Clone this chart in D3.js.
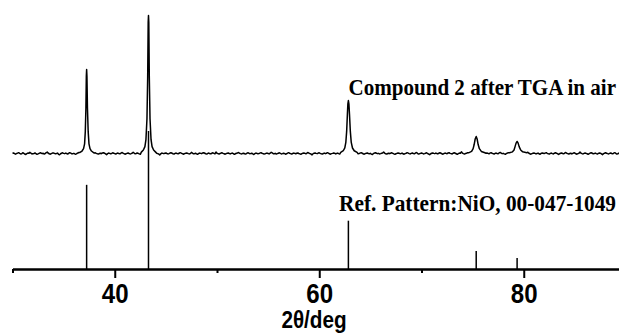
<!DOCTYPE html>
<html>
<head>
<meta charset="utf-8">
<script src="https://cdn.jsdelivr.net/npm/d3@7"></script>
<style>
    body { margin: 0; background: #fff; }
    svg { display: block; }
</style>
</head>
<body>
<script>
// tick values
const majorTicks = [40, 60, 80];
const minorTicks = [30, 50, 70, 90];

// reference pattern NiO, 00-047-1049 (2theta, relative intensity %)
const refAngles = [37.25, 43.3, 62.85, 75.35, 79.35];
const refIntensity = [61, 100, 35, 13, 8];

// measured pattern: baseline noise, one value every 0.1 deg from 30.0 (counts)
const baseStart = 30.0;
const baseStep = 0.1;
const baseNoise = [
    2, 4, -1, -5, 0, 3, 6, 1, -3, -2, 5, 2, -4, -7, -1, 3, 1, 8, 2, -3,
    -1, 0, 4, -2, -6, -3, 1, 5, 3, -1, 2, -4, 0, 6, 10, 2, -2, -5, -1, 3,
    4, 1, -2, 0, 3, -6, -9, -2, 2, 5, 1, -1, 3, 0, -4, 2, 6, 3, -2, -1,
    1, -3, -5, 0, 4, 7, 2, -1, -3, 1, 3, -2, -6, 12, 3, -1, 0, 2, -4, -2,
    3, 5, 1, -2, -4, 0, 2, -1, 4, 6, 2, -3, -8, -1, 3, 1, -2, 0, 5, 2,
    -1, -4, 1, 3, 0, -2, 2, 7, 3, -1, -5, -2, 1, 4, 0, -3, -1, 2, 9, 3,
    -2, 0, 4, 1, -3, -6, -1, 2, 5, 3, -1, 1, -2, -4, 2, 6, 1, -3, 0, 3,
    5, 2, -1, -4, -11, -2, 3, 1, -1, 2, 4, 0, -3, -1, 3, 5, 2, -2, -4, 1,
    3, 0, -2, 2, 6, 3, -1, -5, -2, 1, 4, 2, -1, -3, 0, 8, 3, -2, -1, 2,
    -3, -6, 0, 3, 1, -1, 4, 6, 2, -2, -4, 1, 3, -1, -2, 2, 5, 1, -3, 11,
    2, -1, -4, 0, 3, 5, 1, -2, -5, -1, 2, 4, 0, -3, 1, 3, -1, -6, -2, 2,
    4, 7, 2, -1, -3, 0, 2, -2, -4, 1, 5, 3, -1, 0, 2, -3, -7, -1, 3, 1,
    -2, 0, 3, 6, 2, -1, -4, -2, 1, 3, 0, -3, 2, 9, 4, -1, -2, 1, -4, -1,
    2, 5, 1, -3, -1, 2, 0, -5, -2, 3, 6, 2, -1, -4, 0, 3, 1, -2, 2, 4,
    0, -3, -6, -1, 2, 4, 1, -2, 3, 7, 2, -1, -4, -10, -1, 2, 4, 1, -1, 3,
    5, 1, -2, -4, 0, 3, -1, 2, 6, 3, -2, -5, -1, 1, 4, 2, -3, 0, 3, -1,
    -4, -2, 2, 5, 1, -1, 3, 0, -3, -6, 0, 4, 8, 2, -1, -3, 1, 3, -2, 0,
    3, 6, 2, -2, -5, -1, 2, 4, 0, -2, 1, -4, -8, 0, 3, 5, 2, -1, 1, -3,
    -1, 2, 4, 10, 3, -2, -4, 0, 2, -1, 3, 5, 1, -3, -6, -2, 1, 4, 2, -1,
    0, 3, -2, -5, -1, 2, 6, 3, -1, -3, 1, 4, 0, -2, 3, 7, 2, -4, -2, 1,
    4, 1, -3, -1, 2, 5, 0, -4, -9, -2, 2, 4, 1, -1, 3, 0, -3, 2, 6, 2,
    -2, -5, 0, 3, 1, -2, 4, 6, 1, -1, -3, 2, 5, 2, -2, -6, -1, 3, 1, 12,
    3, -1, -4, 0, 2, 5, 1, -3, -1, 3, 7, 2, -2, -5, 0, 4, 1, -2, 3, 0,
    -3, -7, -1, 2, 4, 1, -2, 3, 6, 2, -1, -4, 1, 3, 0, -2, 4, 8, 2, -1,
    1, -3, -6, 0, 3, 5, 2, -1, -3, 2, 4, 0, -5, -2, 1, 3, -1, 2, 6, 3,
    -1, -4, 0, 3, 9, 2, -2, -5, -1, 2, 4, 1, -3, 0, 3, -2, -6, 1, 4, 2,
    0, 3, 6, 1, -2, -4, 1, 3, -1, -3, 2, 5, 2, -1, -7, -2, 2, 4, 0, -2,
    3, 7, 2, -1, -4, 0, 2, -3, 1, 5, 3, -2, -5, -1, 2, 10, 3, -1, -3, 1,
    4, 1, -2, -6, -1, 3, 5, 2, -2, 0, 3, -1, -4, 1, 4, 2, -3, -8, -1, 2,
    5, 2, -1, -3, 1, 4, 0, -2, 3, 6, 1, -4, -2, 2, 5, 1, -1, -5, 0, 3
];

const peak37 = [[36.6, 8], [36.8, 18], [36.95, 35], [37.05, 70], [37.12, 160], [37.18, 330],
    [37.22, 560], [37.25, 609], [37.28, 560], [37.33, 330], [37.4, 160], [37.48, 70],
    [37.58, 35], [37.72, 18], [37.9, 8]];
const peak43 = [[42.6, 10], [42.8, 25], [42.95, 50], [43.05, 100], [43.15, 250], [43.22, 550],
    [43.27, 950], [43.3, 1000], [43.33, 950], [43.38, 550], [43.45, 250], [43.55, 100],
    [43.65, 50], [43.8, 25], [44.0, 10]];
const peak63 = [[62.1, 8], [62.35, 20], [62.5, 40], [62.6, 80], [62.68, 160], [62.75, 280],
    [62.8, 360], [62.85, 384], [62.9, 360], [62.96, 280], [63.04, 160], [63.13, 80],
    [63.25, 40], [63.42, 20], [63.7, 8]];
const peak75 = [[74.6, 5], [74.9, 15], [75.05, 35], [75.15, 65], [75.25, 105], [75.35, 123],
    [75.44, 105], [75.54, 65], [75.66, 35], [75.85, 15], [76.2, 5]];
const peak79 = [[78.6, 5], [78.9, 12], [79.05, 25], [79.15, 50], [79.25, 75], [79.35, 87],
    [79.45, 75], [79.55, 50], [79.7, 25], [79.9, 12], [80.3, 5]];

const width = 619;
const height = 334;
const sans = "'Liberation Sans', Arial, sans-serif";
const serif = "'Liberation Serif', 'Times New Roman', serif";

const svg = d3.select('body').append('svg')
    .attr('width', width)
    .attr('height', height);

const x = d3.scaleLinear().domain([30, 90]).range([12.5, 626]);
const yMeas = d3.scaleLinear().domain([0, 1000]).range([153.5, 15.5]);
const yRef = d3.scaleLinear().domain([0, 100]).range([269, 131]);

// measured series: baseline outside the peak windows + peak points
const peaks = [peak37, peak43, peak63, peak75, peak79];
const windows = peaks.map(p => [p[0][0], p[p.length - 1][0]]);
let measured = [];
baseNoise.forEach((v, i) => {
    const a = +(baseStart + i * baseStep).toFixed(2);
    if (!windows.some(w => a >= w[0] && a <= w[1])) measured.push([a, v]);
});
peaks.forEach(p => measured = measured.concat(p));
measured.sort((a, b) => a[0] - b[0]);

const line = d3.line()
    .x(d => x(d[0]))
    .y(d => yMeas(d[1]));

svg.append('path')
    .datum(measured)
    .attr('fill', 'none')
    .attr('stroke', '#000')
    .attr('stroke-width', 1.5)
    .attr('stroke-linejoin', 'round')
    .attr('d', line);

// reference sticks
svg.append('g')
    .selectAll('line')
    .data(refAngles)
    .enter().append('line')
    .attr('x1', d => x(d))
    .attr('x2', d => x(d))
    .attr('y1', yRef(0))
    .attr('y2', (d, i) => yRef(refIntensity[i]))
    .attr('stroke', '#000')
    .attr('stroke-width', 1.5);

// x axis: minor ticks without labels, major ticks with labels
const axisG = svg.append('g')
    .attr('transform', `translate(0,${yRef(0)})`);

axisG.call(d3.axisBottom(x)
    .tickValues(minorTicks)
    .tickSize(4)
    .tickSizeOuter(0)
    .tickFormat(''));

axisG.append('g').call(d3.axisBottom(x)
    .tickValues(majorTicks)
    .tickSize(9)
    .tickSizeOuter(0)
    .tickFormat(d3.format('d')));

axisG.selectAll('.domain, line')
    .attr('stroke', '#000')
    .attr('stroke-width', 2);

axisG.selectAll('text')
    .attr('font-family', sans)
    .attr('font-weight', 'bold')
    .attr('font-size', 28)
    .attr('fill', '#000')
    .attr('dy', null)
    .attr('y', 34)
    .attr('transform', 'scale(0.86,1)');

svg.append('text')
    .attr('transform', 'translate(314,328) scale(0.9,1)')
    .attr('text-anchor', 'middle')
    .attr('font-family', sans)
    .attr('font-weight', 'bold')
    .attr('font-size', 23)
    .text('2θ/deg');

// series labels, narrowed with a horizontal scale
svg.append('text')
    .attr('transform', 'translate(616,95) scale(0.915,1)')
    .attr('text-anchor', 'end')
    .attr('font-family', serif)
    .attr('font-weight', 'bold')
    .attr('font-size', 23)
    .text('Compound 2 after TGA in air');

svg.append('text')
    .attr('transform', 'translate(616,211) scale(0.888,1)')
    .attr('text-anchor', 'end')
    .attr('font-family', serif)
    .attr('font-weight', 'bold')
    .attr('font-size', 24)
    .text('Ref. Pattern:NiO, 00-047-1049');
</script>
</body>
</html>
